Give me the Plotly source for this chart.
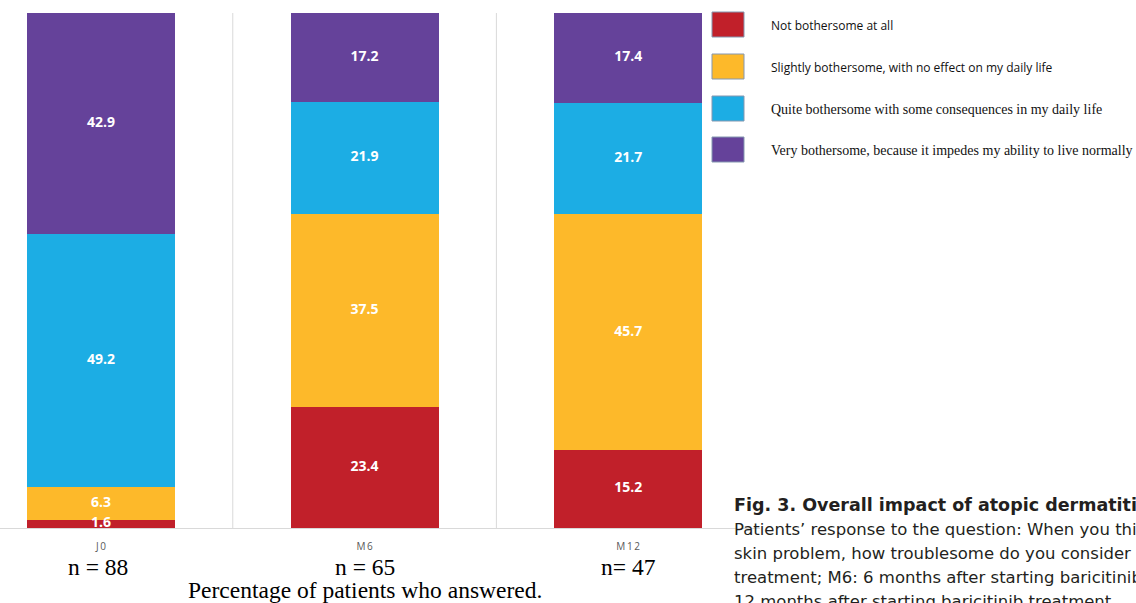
import plotly.graph_objects as go

# Survey answers by visit (percent of patients who answered)
visits = ["J0", "M6", "M12"]
visit_n = ["n = 88", "n = 65", "n= 47"]
not_bothersome = [1.6, 23.4, 15.2]
slightly_bothersome = [6.3, 37.5, 45.7]
quite_bothersome = [49.2, 21.9, 21.7]
very_bothersome = [42.9, 17.2, 17.4]

series_names = [
    "Not bothersome at all",
    "Slightly bothersome, with no effect on my daily life",
    "Quite bothersome with some consequences in my daily life",
    "Very bothersome, because it impedes my ability to live normally",
]
series_values = [not_bothersome, slightly_bothersome, quite_bothersome, very_bothersome]
colors = ["#C1202A", "#FDB92A", "#1CADE4", "#65429A"]

W, H = 1136, 603
plot_left, plot_right = 0, 760
plot_top, plot_bottom = 13, 528
plot_w = plot_right - plot_left
plot_h = plot_bottom - plot_top


def px_x(px):
    return (px - plot_left) / plot_w


def px_y(py):
    return (plot_bottom - py) / plot_h


fig = go.Figure()
xs = list(range(len(visits)))

for name, vals, col in zip(series_names, series_values, colors):
    fig.add_trace(go.Bar(
        x=xs, y=vals, name=name, marker=dict(color=col, line=dict(width=0)),
        showlegend=False, hoverinfo="skip",
    ))

# Segment value labels, centred in each stacked block
lab_x, lab_y, lab_t = [], [], []
for i in xs:
    base = 0.0
    for vals in series_values:
        v = vals[i]
        lab_x.append(i)
        lab_y.append(base + v / 2)
        lab_t.append(f"{v:.1f}")
        base += v
fig.add_trace(go.Scatter(
    x=lab_x, y=lab_y, text=lab_t, mode="text", cliponaxis=True,
    textfont=dict(family="Open Sans", size=14, color="white", weight="bold"),
    showlegend=False, hoverinfo="skip",
))

shapes = []
# category separators
for xv in [0.5, 1.5]:
    shapes.append(dict(type="line", xref="x", yref="y", x0=xv, x1=xv, y0=0, y1=100.8,
                       line=dict(color="#D9D9D9", width=1), layer="below"))

# hand-made legend: swatches and labels
leg_x0, leg_x1 = 712, 744
leg_tops = [12, 54, 96, 137]
sw = 25
annotations = []
for k, (name, col, top) in enumerate(zip(series_names, colors, leg_tops)):
    shapes.append(dict(type="rect", xref="paper", yref="paper",
                       x0=px_x(leg_x0), x1=px_x(leg_x1), y0=px_y(top + sw), y1=px_y(top),
                       fillcolor=col, line=dict(color="#8497B0", width=1)))
    serif = k >= 2
    annotations.append(dict(
        x=px_x(769), y=px_y(top + sw / 2 + 1),
        xref="paper", yref="paper", xanchor="left", yanchor="middle", showarrow=False,
        text=name,
        font=dict(family="Liberation Serif" if serif else "Open Sans",
                  size=14 if serif else 12, color="#111111"),
    ))

# n per visit
for i, t in enumerate(visit_n):
    annotations.append(dict(
        x=i, y=px_y(567), xref="x", yref="paper",
        xshift=-3 if i == 0 else 0, showarrow=False, text=t,
        xanchor="center", yanchor="middle",
        font=dict(family="Liberation Serif", size=23.5, color="black"),
    ))
annotations.append(dict(
    x=1, y=px_y(590), xref="x", yref="paper", showarrow=False,
    text="Percentage of patients who answered.", xanchor="center", yanchor="middle",
    font=dict(family="Liberation Serif", size=23.5, color="black"),
))

# figure caption
caption = [
    ("<b>Fig. 3. Overall impact of atopic dermatitis</b>", 505, 17.5),
    ("Patients’ response to the question: When you think about your", 529, 16.5),
    ("skin problem, how troublesome do you consider it? J0: before", 553, 16.5),
    ("treatment; M6: 6 months after starting baricitinib treatment; M12:", 577, 16.5),
    ("12 months after starting baricitinib treatment.", 601, 16.5),
]
for t, py, fs in caption:
    annotations.append(dict(
        x=px_x(732), y=px_y(py), xref="paper", yref="paper",
        xanchor="left", yanchor="middle", showarrow=False, text=t,
        font=dict(family="DejaVu Sans", size=fs, color="#231F20"),
    ))

# spaced-out tick labels
tick_text = ["\u2009".join(v) for v in visits]

fig.update_layout(
    width=W, height=H,
    margin=dict(l=plot_left, r=W - plot_right, t=plot_top, b=H - plot_bottom, pad=0),
    barmode="stack", bargap=0.438,
    plot_bgcolor="white", paper_bgcolor="white",
    xaxis=dict(range=[-0.383, 2.5], tickmode="array", tickvals=xs, ticktext=tick_text,
               tickfont=dict(family="Open Sans", size=10, color="#595959"),
               showgrid=False, zeroline=False, showline=True, linecolor="#D9D9D9",
               linewidth=1, ticks="", ticklabelstandoff=9, fixedrange=True),
    yaxis=dict(range=[0, 100], visible=False, fixedrange=True),
    shapes=shapes, annotations=annotations,
)

fig.write_html("out.html")
